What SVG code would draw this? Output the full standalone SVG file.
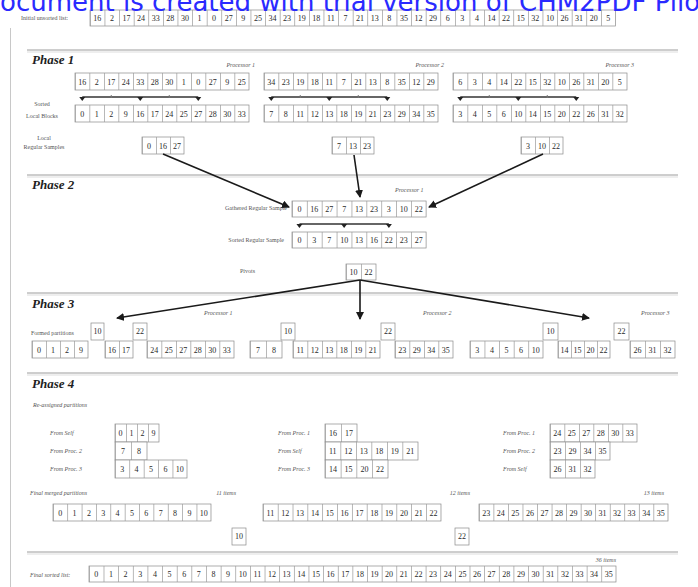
<svg xmlns="http://www.w3.org/2000/svg" width="698" height="587" viewBox="0 0 698 587">
<style>
  .bg{fill:#ffffff}
  .wm{font-family:"DejaVu Sans",Verdana,sans-serif;font-size:26px;fill:#2a2aff}
  .cell{fill:#ffffff;stroke:#8a8a8a;stroke-width:0.7}
  .div{stroke:#9a9a9a;fill:none}
  .n{font-family:"Liberation Serif","Times New Roman",serif;font-size:8px;fill:#2a2a2a;text-anchor:middle}
  .lbl{font-family:"Liberation Serif","Times New Roman",serif;font-size:6px;fill:#555555}
  .lblc{font-family:"Liberation Serif","Times New Roman",serif;font-size:6px;fill:#555555;text-anchor:middle}
  .proc{font-family:"Liberation Serif","Times New Roman",serif;font-size:6px;font-style:italic;fill:#555555}
  .phase{font-family:"Liberation Serif","Times New Roman",serif;font-size:13px;font-weight:bold;font-style:italic;fill:#1e1e1e}
  .sep{stroke:#9c9c9c;stroke-width:1}
  .sep2{stroke:#dddddd;stroke-width:1}
  .bar{stroke:#333333;stroke-width:1.4}
  .tri{fill:#222222}
  .tick{stroke:#777777;stroke-width:1}
  .conn{stroke:#1a1a1a;stroke-width:1.6;fill:none}
</style>
<defs>
  <marker id="ah" viewBox="0 0 8 8" refX="7" refY="4" markerWidth="5" markerHeight="5" orient="auto">
    <path d="M0 0L8 4L0 8z" fill="#1a1a1a"/>
  </marker>
  <path id="down" d="M-3 -1.5L3 -1.5L0 2.5z"/>
</defs>

<rect class="bg" x="0" y="0" width="698" height="587"/>

<!-- page frame -->
<line x1="10.5" y1="28" x2="10.5" y2="587" stroke="#c8c8c8" stroke-width="1"/>

<!-- section separators -->
<g id="separators">
  <line class="sep" x1="27" y1="50" x2="678" y2="50"/><line class="sep2" x1="27" y1="52" x2="678" y2="52"/>
  <line class="sep" x1="27" y1="175" x2="678" y2="175"/><line class="sep2" x1="27" y1="177" x2="678" y2="177"/>
  <line class="sep" x1="27" y1="293" x2="678" y2="293"/><line class="sep2" x1="27" y1="295" x2="678" y2="295"/>
  <line class="sep" x1="27" y1="373" x2="678" y2="373"/><line class="sep2" x1="27" y1="375" x2="678" y2="375"/>
  <line class="sep" x1="27" y1="552" x2="678" y2="552"/><line class="sep2" x1="27" y1="554" x2="678" y2="554"/>
</g>

<!-- initial list -->
<g id="initial-list">
  <text class="lbl" x="21" y="20">Initial unsorted list:</text>
  <rect class="cell" x="90" y="10" width="525.6" height="16"/>
  <line class="div" x1="90" y1="18" x2="615.6" y2="18" stroke-width="16" stroke-dasharray="0.7 13.9"/>
  <text class="n" y="21"><tspan x="97.3">16</tspan><tspan x="111.9">2</tspan><tspan x="126.5">17</tspan><tspan x="141.1">24</tspan><tspan x="155.7">33</tspan><tspan x="170.3">28</tspan><tspan x="184.9">30</tspan><tspan x="199.5">1</tspan><tspan x="214.1">0</tspan><tspan x="228.7">27</tspan><tspan x="243.3">9</tspan><tspan x="257.9">25</tspan><tspan x="272.5">34</tspan><tspan x="287.1">23</tspan><tspan x="301.7">19</tspan><tspan x="316.3">18</tspan><tspan x="330.9">11</tspan><tspan x="345.5">7</tspan><tspan x="360.1">21</tspan><tspan x="374.7">13</tspan><tspan x="389.3">8</tspan><tspan x="403.9">35</tspan><tspan x="418.5">12</tspan><tspan x="433.1">29</tspan><tspan x="447.7">6</tspan><tspan x="462.3">3</tspan><tspan x="476.9">4</tspan><tspan x="491.5">14</tspan><tspan x="506.1">22</tspan><tspan x="520.7">15</tspan><tspan x="535.3">32</tspan><tspan x="549.9">10</tspan><tspan x="564.5">26</tspan><tspan x="579.1">31</tspan><tspan x="593.7">20</tspan><tspan x="608.3">5</tspan></text>
</g>

<!-- Phase 1 -->
<g id="phase1">
  <text class="phase" x="32" y="64">Phase 1</text>
  <text class="proc" x="255" y="67" text-anchor="end">Processor 1</text>
  <text class="proc" x="444" y="67" text-anchor="end">Processor 2</text>
  <text class="proc" x="634" y="67" text-anchor="end">Processor 3</text>
  <text class="lblc" x="42" y="106">Sorted</text>
  <text class="lblc" x="42" y="118">Local Blocks</text>
  <text class="lblc" x="44" y="140">Local</text>
  <text class="lblc" x="44" y="149">Regular Samples</text>
</g>

<g id="p1-unsorted">
  <rect class="cell" x="75" y="73" width="174" height="17"/>
  <line class="div" x1="75" y1="81.5" x2="249" y2="81.5" stroke-width="17" stroke-dasharray="0.7 13.8"/>
  <text class="n" y="84.5"><tspan x="82.25">16</tspan><tspan x="96.75">2</tspan><tspan x="111.25">17</tspan><tspan x="125.75">24</tspan><tspan x="140.25">33</tspan><tspan x="154.75">28</tspan><tspan x="169.25">30</tspan><tspan x="183.75">1</tspan><tspan x="198.25">0</tspan><tspan x="212.75">27</tspan><tspan x="227.25">9</tspan><tspan x="241.75">25</tspan></text>
</g>
<g id="p2-unsorted">
  <rect class="cell" x="264" y="73" width="174" height="17"/>
  <line class="div" x1="264" y1="81.5" x2="438" y2="81.5" stroke-width="17" stroke-dasharray="0.7 13.8"/>
  <text class="n" y="84.5"><tspan x="271.25">34</tspan><tspan x="285.75">23</tspan><tspan x="300.25">19</tspan><tspan x="314.75">18</tspan><tspan x="329.25">11</tspan><tspan x="343.75">7</tspan><tspan x="358.25">21</tspan><tspan x="372.75">13</tspan><tspan x="387.25">8</tspan><tspan x="401.75">35</tspan><tspan x="416.25">12</tspan><tspan x="430.75">29</tspan></text>
</g>
<g id="p3-unsorted">
  <rect class="cell" x="453" y="73" width="174" height="17"/>
  <line class="div" x1="453" y1="81.5" x2="627" y2="81.5" stroke-width="17" stroke-dasharray="0.7 13.8"/>
  <text class="n" y="84.5"><tspan x="460.25">6</tspan><tspan x="474.75">3</tspan><tspan x="489.25">4</tspan><tspan x="503.75">14</tspan><tspan x="518.25">22</tspan><tspan x="532.75">15</tspan><tspan x="547.25">32</tspan><tspan x="561.75">10</tspan><tspan x="576.25">26</tspan><tspan x="590.75">31</tspan><tspan x="605.25">20</tspan><tspan x="619.75">5</tspan></text>
</g>

<!-- sample selection bars -->
<g id="sample-bars">
  <line class="bar" x1="82.25" y1="97" x2="198.25" y2="97"/>
  <line class="bar" x1="271.25" y1="97" x2="387.25" y2="97"/>
  <line class="bar" x1="460.25" y1="97" x2="576.25" y2="97"/>
  <path class="tick" d="M111.25 95v3M169.25 95v3M300.25 95v3M358.25 95v3M489.25 95v3M547.25 95v3"/>
  <use href="#down" class="tri" x="82.25" y="98.5"/><use href="#down" class="tri" x="140.25" y="98.5"/><use href="#down" class="tri" x="198.25" y="98.5"/>
  <use href="#down" class="tri" x="271.25" y="98.5"/><use href="#down" class="tri" x="329.25" y="98.5"/><use href="#down" class="tri" x="387.25" y="98.5"/>
  <use href="#down" class="tri" x="460.25" y="98.5"/><use href="#down" class="tri" x="518.25" y="98.5"/><use href="#down" class="tri" x="576.25" y="98.5"/>
</g>

<g id="p1-sorted">
  <rect class="cell" x="75" y="105" width="174" height="17"/>
  <line class="div" x1="75" y1="113.5" x2="249" y2="113.5" stroke-width="17" stroke-dasharray="0.7 13.8"/>
  <text class="n" y="116.5"><tspan x="82.25">0</tspan><tspan x="96.75">1</tspan><tspan x="111.25">2</tspan><tspan x="125.75">9</tspan><tspan x="140.25">16</tspan><tspan x="154.75">17</tspan><tspan x="169.25">24</tspan><tspan x="183.75">25</tspan><tspan x="198.25">27</tspan><tspan x="212.75">28</tspan><tspan x="227.25">30</tspan><tspan x="241.75">33</tspan></text>
</g>
<g id="p2-sorted">
  <rect class="cell" x="264" y="105" width="174" height="17"/>
  <line class="div" x1="264" y1="113.5" x2="438" y2="113.5" stroke-width="17" stroke-dasharray="0.7 13.8"/>
  <text class="n" y="116.5"><tspan x="271.25">7</tspan><tspan x="285.75">8</tspan><tspan x="300.25">11</tspan><tspan x="314.75">12</tspan><tspan x="329.25">13</tspan><tspan x="343.75">18</tspan><tspan x="358.25">19</tspan><tspan x="372.75">21</tspan><tspan x="387.25">23</tspan><tspan x="401.75">29</tspan><tspan x="416.25">34</tspan><tspan x="430.75">35</tspan></text>
</g>
<g id="p3-sorted">
  <rect class="cell" x="453" y="105" width="174" height="17"/>
  <line class="div" x1="453" y1="113.5" x2="627" y2="113.5" stroke-width="17" stroke-dasharray="0.7 13.8"/>
  <text class="n" y="116.5"><tspan x="460.25">3</tspan><tspan x="474.75">4</tspan><tspan x="489.25">5</tspan><tspan x="503.75">6</tspan><tspan x="518.25">10</tspan><tspan x="532.75">14</tspan><tspan x="547.25">15</tspan><tspan x="561.75">20</tspan><tspan x="576.25">22</tspan><tspan x="590.75">26</tspan><tspan x="605.25">31</tspan><tspan x="619.75">32</tspan></text>
</g>

<g id="p1-samples">
  <rect class="cell" x="142" y="137" width="42" height="17"/>
  <line class="div" x1="142" y1="145.5" x2="184" y2="145.5" stroke-width="17" stroke-dasharray="0.7 13.3"/>
  <text class="n" y="148.5"><tspan x="149">0</tspan><tspan x="163">16</tspan><tspan x="177">27</tspan></text>
</g>
<g id="p2-samples">
  <rect class="cell" x="332" y="137" width="42" height="17"/>
  <line class="div" x1="332" y1="145.5" x2="374" y2="145.5" stroke-width="17" stroke-dasharray="0.7 13.3"/>
  <text class="n" y="148.5"><tspan x="339">7</tspan><tspan x="353">13</tspan><tspan x="367">23</tspan></text>
</g>
<g id="p3-samples">
  <rect class="cell" x="521" y="137" width="42" height="17"/>
  <line class="div" x1="521" y1="145.5" x2="563" y2="145.5" stroke-width="17" stroke-dasharray="0.7 13.3"/>
  <text class="n" y="148.5"><tspan x="528">3</tspan><tspan x="542">10</tspan><tspan x="556">22</tspan></text>
</g>

<!-- Phase 2 -->
<g id="phase2">
  <text class="phase" x="32" y="189">Phase 2</text>
  <text class="proc" x="395" y="192">Processor 1</text>
  <text class="lbl" x="287" y="210" text-anchor="end">Gathered Regular Sample</text>
  <text class="lbl" x="284" y="242" text-anchor="end">Sorted Regular Sample</text>
  <text class="lbl" x="240" y="273">Pivots</text>
</g>
<g id="gathered-sample">
  <rect class="cell" x="292" y="201" width="134.1" height="16"/>
  <line class="div" x1="292" y1="209" x2="426.1" y2="209" stroke-width="16" stroke-dasharray="0.7 14.2"/>
  <text class="n" y="212"><tspan x="299.45">0</tspan><tspan x="314.35">16</tspan><tspan x="329.25">27</tspan><tspan x="344.15">7</tspan><tspan x="359.05">13</tspan><tspan x="373.95">23</tspan><tspan x="388.85">3</tspan><tspan x="403.75">10</tspan><tspan x="418.65">22</tspan></text>
</g>
<g id="pivot-bar">
  <line class="bar" x1="299.45" y1="224" x2="388.85" y2="224"/>
  <use href="#down" class="tri" x="299.45" y="225.5"/><use href="#down" class="tri" x="344.15" y="225.5"/><use href="#down" class="tri" x="388.85" y="225.5"/>
</g>
<g id="sorted-sample">
  <rect class="cell" x="292" y="232" width="134.1" height="16"/>
  <line class="div" x1="292" y1="240" x2="426.1" y2="240" stroke-width="16" stroke-dasharray="0.7 14.2"/>
  <text class="n" y="243"><tspan x="299.45">0</tspan><tspan x="314.35">3</tspan><tspan x="329.25">7</tspan><tspan x="344.15">10</tspan><tspan x="359.05">13</tspan><tspan x="373.95">16</tspan><tspan x="388.85">22</tspan><tspan x="403.75">23</tspan><tspan x="418.65">27</tspan></text>
</g>
<g id="pivots">
  <rect class="cell" x="346" y="264" width="30" height="16"/>
  <line class="div" x1="346" y1="272" x2="376" y2="272" stroke-width="16" stroke-dasharray="0.7 14.3"/>
  <text class="n" y="275"><tspan x="353.5">10</tspan><tspan x="368.5">22</tspan></text>
</g>

<!-- connectors -->
<g id="connectors">
  <line class="conn" x1="163" y1="154" x2="289" y2="207" marker-end="url(#ah)"/>
  <line class="conn" x1="354" y1="155" x2="360" y2="197" marker-end="url(#ah)"/>
  <line class="conn" x1="543" y1="154" x2="429" y2="207" marker-end="url(#ah)"/>
  <line class="conn" x1="360" y1="280" x2="117" y2="318" marker-end="url(#ah)"/>
  <line class="conn" x1="360" y1="280" x2="360" y2="319" marker-end="url(#ah)"/>
  <line class="conn" x1="360" y1="280" x2="589" y2="318" marker-end="url(#ah)"/>
</g>

<!-- Phase 3 -->
<g id="phase3">
  <text class="phase" x="32" y="308">Phase 3</text>
  <text class="proc" x="204" y="315">Processor 1</text>
  <text class="proc" x="423" y="315">Processor 2</text>
  <text class="proc" x="641" y="315">Processor 3</text>
  <text class="lbl" x="31" y="335">Formed partitions</text>
</g>
<g id="p3-pivot-marks">
  <rect class="cell" x="91" y="323" width="13" height="17"/><text class="n" x="97.5" y="334">10</text>
  <rect class="cell" x="133" y="323" width="14" height="17"/><text class="n" x="140" y="334">22</text>
  <rect class="cell" x="281" y="323" width="14" height="17"/><text class="n" x="288" y="334">10</text>
  <rect class="cell" x="381" y="323" width="14" height="17"/><text class="n" x="388" y="334">22</text>
  <rect class="cell" x="543" y="323" width="15" height="17"/><text class="n" x="550.5" y="334">10</text>
  <rect class="cell" x="614" y="323" width="15" height="17"/><text class="n" x="621.5" y="334">22</text>
</g>
<g id="p1-partitions">
  <rect class="cell" x="32" y="341" width="56" height="17"/>
  <line class="div" x1="32" y1="349.5" x2="88" y2="349.5" stroke-width="17" stroke-dasharray="0.7 13.3"/>
  <text class="n" y="352.5"><tspan x="39">0</tspan><tspan x="53">1</tspan><tspan x="67">2</tspan><tspan x="81">9</tspan></text>
  <rect class="cell" x="105" y="341" width="28" height="17"/>
  <line class="div" x1="105" y1="349.5" x2="133" y2="349.5" stroke-width="17" stroke-dasharray="0.7 13.3"/>
  <text class="n" y="352.5"><tspan x="112">16</tspan><tspan x="126">17</tspan></text>
  <rect class="cell" x="147" y="341" width="87" height="17"/>
  <line class="div" x1="147" y1="349.5" x2="234" y2="349.5" stroke-width="17" stroke-dasharray="0.7 13.8"/>
  <text class="n" y="352.5"><tspan x="154.25">24</tspan><tspan x="168.75">25</tspan><tspan x="183.25">27</tspan><tspan x="197.75">28</tspan><tspan x="212.25">30</tspan><tspan x="226.75">33</tspan></text>
</g>
<g id="p2-partitions">
  <rect class="cell" x="250" y="341" width="32" height="17"/>
  <line class="div" x1="250" y1="349.5" x2="282" y2="349.5" stroke-width="17" stroke-dasharray="0.7 15.3"/>
  <text class="n" y="352.5"><tspan x="258">7</tspan><tspan x="274">8</tspan></text>
  <rect class="cell" x="293" y="341" width="87" height="17"/>
  <line class="div" x1="293" y1="349.5" x2="380" y2="349.5" stroke-width="17" stroke-dasharray="0.7 13.8"/>
  <text class="n" y="352.5"><tspan x="300.25">11</tspan><tspan x="314.75">12</tspan><tspan x="329.25">13</tspan><tspan x="343.75">18</tspan><tspan x="358.25">19</tspan><tspan x="372.75">21</tspan></text>
  <rect class="cell" x="395" y="341" width="58" height="17"/>
  <line class="div" x1="395" y1="349.5" x2="453" y2="349.5" stroke-width="17" stroke-dasharray="0.7 13.8"/>
  <text class="n" y="352.5"><tspan x="402.25">23</tspan><tspan x="416.75">29</tspan><tspan x="431.25">34</tspan><tspan x="445.75">35</tspan></text>
</g>
<g id="p3-partitions">
  <rect class="cell" x="470" y="341" width="73" height="17"/>
  <line class="div" x1="470" y1="349.5" x2="543" y2="349.5" stroke-width="17" stroke-dasharray="0.7 13.9"/>
  <text class="n" y="352.5"><tspan x="477.3">3</tspan><tspan x="491.9">4</tspan><tspan x="506.5">5</tspan><tspan x="521.1">6</tspan><tspan x="535.7">10</tspan></text>
  <rect class="cell" x="558" y="341" width="52" height="17"/>
  <line class="div" x1="558" y1="349.5" x2="610" y2="349.5" stroke-width="17" stroke-dasharray="0.7 12.3"/>
  <text class="n" y="352.5"><tspan x="564.5">14</tspan><tspan x="577.5">15</tspan><tspan x="590.5">20</tspan><tspan x="603.5">22</tspan></text>
  <rect class="cell" x="630" y="341" width="45" height="17"/>
  <line class="div" x1="630" y1="349.5" x2="675" y2="349.5" stroke-width="17" stroke-dasharray="0.7 14.3"/>
  <text class="n" y="352.5"><tspan x="637.5">26</tspan><tspan x="652.5">31</tspan><tspan x="667.5">32</tspan></text>
</g>

<!-- Phase 4 -->
<g id="phase4">
  <text class="phase" x="32" y="388">Phase 4</text>
  <text class="proc" x="33" y="407">Re-assigned partitions</text>
  <text class="proc" x="30" y="495">Final merged partitions</text>
  <text class="proc" x="236" y="495" text-anchor="end">11 items</text>
  <text class="proc" x="470" y="495" text-anchor="end">12 items</text>
  <text class="proc" x="664" y="495" text-anchor="end">13 items</text>
</g>
<g id="proc1-merge-inputs">
  <text class="proc" x="50" y="435">From Self</text>
  <text class="proc" x="50" y="453">From Proc. 2</text>
  <text class="proc" x="50" y="471">From Proc. 3</text>
  <rect class="cell" x="115" y="424" width="44" height="18"/>
  <line class="div" x1="115" y1="433" x2="159" y2="433" stroke-width="18" stroke-dasharray="0.7 10.3"/>
  <text class="n" y="436"><tspan x="120.5">0</tspan><tspan x="131.5">1</tspan><tspan x="142.5">2</tspan><tspan x="153.5">9</tspan></text>
  <rect class="cell" x="115" y="442" width="32" height="18"/>
  <line class="div" x1="115" y1="451" x2="147" y2="451" stroke-width="18" stroke-dasharray="0.7 15.3"/>
  <text class="n" y="454"><tspan x="123">7</tspan><tspan x="139">8</tspan></text>
  <rect class="cell" x="115" y="460" width="72" height="18"/>
  <line class="div" x1="115" y1="469" x2="187" y2="469" stroke-width="18" stroke-dasharray="0.7 13.7"/>
  <text class="n" y="472"><tspan x="122.2">3</tspan><tspan x="136.6">4</tspan><tspan x="151">5</tspan><tspan x="165.4">6</tspan><tspan x="179.8">10</tspan></text>
</g>
<g id="proc2-merge-inputs">
  <text class="proc" x="278" y="435">From Proc. 1</text>
  <text class="proc" x="278" y="453">From Self</text>
  <text class="proc" x="278" y="471">From Proc. 3</text>
  <rect class="cell" x="325" y="424" width="32" height="18"/>
  <line class="div" x1="325" y1="433" x2="357" y2="433" stroke-width="18" stroke-dasharray="0.7 15.3"/>
  <text class="n" y="436"><tspan x="333">16</tspan><tspan x="349">17</tspan></text>
  <rect class="cell" x="325" y="442" width="93" height="18"/>
  <line class="div" x1="325" y1="451" x2="418" y2="451" stroke-width="18" stroke-dasharray="0.7 14.8"/>
  <text class="n" y="454"><tspan x="332.75">11</tspan><tspan x="348.25">12</tspan><tspan x="363.75">13</tspan><tspan x="379.25">18</tspan><tspan x="394.75">19</tspan><tspan x="410.25">21</tspan></text>
  <rect class="cell" x="325" y="460" width="63" height="18"/>
  <line class="div" x1="325" y1="469" x2="388" y2="469" stroke-width="18" stroke-dasharray="0.7 15.05"/>
  <text class="n" y="472"><tspan x="332.9">14</tspan><tspan x="348.6">15</tspan><tspan x="364.4">20</tspan><tspan x="380.1">22</tspan></text>
</g>
<g id="proc3-merge-inputs">
  <text class="proc" x="503" y="435">From Proc. 1</text>
  <text class="proc" x="503" y="453">From Proc. 2</text>
  <text class="proc" x="503" y="471">From Self</text>
  <rect class="cell" x="550" y="424" width="87" height="18"/>
  <line class="div" x1="550" y1="433" x2="637" y2="433" stroke-width="18" stroke-dasharray="0.7 13.8"/>
  <text class="n" y="436"><tspan x="557.25">24</tspan><tspan x="571.75">25</tspan><tspan x="586.25">27</tspan><tspan x="600.75">28</tspan><tspan x="615.25">30</tspan><tspan x="629.75">33</tspan></text>
  <rect class="cell" x="550" y="442" width="60" height="18"/>
  <line class="div" x1="550" y1="451" x2="610" y2="451" stroke-width="18" stroke-dasharray="0.7 14.3"/>
  <text class="n" y="454"><tspan x="557.5">23</tspan><tspan x="572.5">29</tspan><tspan x="587.5">34</tspan><tspan x="602.5">35</tspan></text>
  <rect class="cell" x="550" y="460" width="45" height="18"/>
  <line class="div" x1="550" y1="469" x2="595" y2="469" stroke-width="18" stroke-dasharray="0.7 14.3"/>
  <text class="n" y="472"><tspan x="557.5">26</tspan><tspan x="572.5">31</tspan><tspan x="587.5">32</tspan></text>
</g>

<g id="merged-1">
  <rect class="cell" x="53" y="504" width="158" height="17"/>
  <line class="div" x1="53" y1="512.5" x2="211" y2="512.5" stroke-width="17" stroke-dasharray="0.7 13.66"/>
  <text class="n" y="515.5"><tspan x="60.2">0</tspan><tspan x="74.5">1</tspan><tspan x="88.9">2</tspan><tspan x="103.2">3</tspan><tspan x="117.6">4</tspan><tspan x="132">5</tspan><tspan x="146.3">6</tspan><tspan x="160.7">7</tspan><tspan x="175">8</tspan><tspan x="189.4">9</tspan><tspan x="203.8">10</tspan></text>
</g>
<g id="merged-2">
  <rect class="cell" x="263" y="504" width="178" height="17"/>
  <line class="div" x1="263" y1="512.5" x2="441" y2="512.5" stroke-width="17" stroke-dasharray="0.7 14.13"/>
  <text class="n" y="515.5"><tspan x="270.4">11</tspan><tspan x="285.2">12</tspan><tspan x="300.1">13</tspan><tspan x="314.9">14</tspan><tspan x="329.7">15</tspan><tspan x="344.6">16</tspan><tspan x="359.4">17</tspan><tspan x="374.2">18</tspan><tspan x="389.1">19</tspan><tspan x="403.9">20</tspan><tspan x="418.7">21</tspan><tspan x="433.6">22</tspan></text>
</g>
<g id="merged-3">
  <rect class="cell" x="479" y="504" width="189" height="17"/>
  <line class="div" x1="479" y1="512.5" x2="668" y2="512.5" stroke-width="17" stroke-dasharray="0.7 13.84"/>
  <text class="n" y="515.5"><tspan x="486.3">23</tspan><tspan x="500.8">24</tspan><tspan x="515.3">25</tspan><tspan x="529.9">26</tspan><tspan x="544.4">27</tspan><tspan x="558.9">28</tspan><tspan x="573.5">29</tspan><tspan x="588">30</tspan><tspan x="602.6">31</tspan><tspan x="617.1">32</tspan><tspan x="631.6">33</tspan><tspan x="646.2">34</tspan><tspan x="660.7">35</tspan></text>
</g>
<g id="p4-pivot-marks">
  <rect class="cell" x="232" y="528" width="14" height="17"/><text class="n" x="239" y="539">10</text>
  <rect class="cell" x="455" y="528" width="14" height="17"/><text class="n" x="462" y="539">22</text>
</g>

<!-- final list -->
<g id="final-list">
  <text class="proc" x="30" y="577">Final sorted list:</text>
  <text class="proc" x="616" y="562" text-anchor="end">36 items</text>
  <rect class="cell" x="89" y="566" width="527" height="16"/>
  <line class="div" x1="89" y1="574" x2="616" y2="574" stroke-width="16" stroke-dasharray="0.7 13.94"/>
  <text class="n" y="577"><tspan x="96.3">0</tspan><tspan x="110.9">1</tspan><tspan x="125.6">2</tspan><tspan x="140.2">3</tspan><tspan x="154.9">4</tspan><tspan x="169.5">5</tspan><tspan x="184.2">6</tspan><tspan x="198.8">7</tspan><tspan x="213.4">8</tspan><tspan x="228.1">9</tspan><tspan x="242.7">10</tspan><tspan x="257.4">11</tspan><tspan x="272">12</tspan><tspan x="286.6">13</tspan><tspan x="301.3">14</tspan><tspan x="315.9">15</tspan><tspan x="330.6">16</tspan><tspan x="345.2">17</tspan><tspan x="359.9">18</tspan><tspan x="374.5">19</tspan><tspan x="389.1">20</tspan><tspan x="403.8">21</tspan><tspan x="418.4">22</tspan><tspan x="433.1">23</tspan><tspan x="447.7">24</tspan><tspan x="462.4">25</tspan><tspan x="477">26</tspan><tspan x="491.6">27</tspan><tspan x="506.3">28</tspan><tspan x="520.9">29</tspan><tspan x="535.6">30</tspan><tspan x="550.2">31</tspan><tspan x="564.9">32</tspan><tspan x="579.5">33</tspan><tspan x="594.1">34</tspan><tspan x="608.8">35</tspan></text>
</g>

<!-- trial watermark printed across the top edge -->
<text class="wm" x="0" y="11">ocument is created with trial version of CHM2PDF Pilot</text>
</svg>
